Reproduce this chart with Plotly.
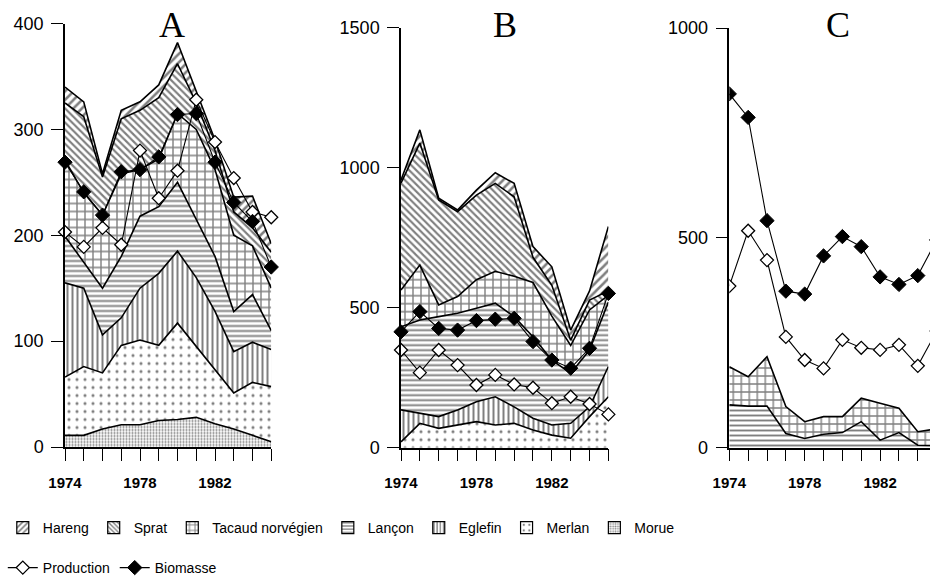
import plotly.graph_objects as go

years = list(range(1974, 1986))
year_labels = ["1974", "", "", "", "1978", "", "", "", "1982", "", "", ""]

# ---- Panel A (values per species, stacked bottom-up) ----
A_morue = [11, 11, 17, 21, 21, 25, 26, 28, 22, 17, 11, 5]
A_merlan = [55, 65, 53, 75, 80, 71, 91, 67, 50, 34, 50, 52]
A_eglefin = [89, 74, 36, 26, 49, 68, 68, 65, 56, 39, 38, 35]
A_lancon = [44, 25, 44, 58, 68, 63, 65, 55, 52, 38, 45, 18]
A_tacaud = [72, 65, 69, 78, 44, 45, 65, 85, 82, 72, 46, 40]
A_sprat = [54, 72, 36, 52, 56, 58, 47, 25, 18, 22, 17, 34]
A_hareng = [15, 14, 3, 8, 8, 12, 20, 10, 10, 14, 30, 8]
A_production = [203, 189, 207, 191, 280, 235, 261, 328, 288, 254, 222, 217]
A_biomasse = [269, 241, 219, 260, 262, 274, 314, 315, 269, 231, 213, 170]

# ---- Panel B ----
B_merlan = [21, 87, 69, 81, 93, 81, 87, 63, 45, 34, 111, 182]
B_eglefin = [114, 36, 42, 54, 71, 101, 59, 42, 36, 53, 35, 108]
B_lancon = [297, 333, 357, 345, 334, 334, 322, 291, 232, 179, 203, 230]
B_tacaud = [131, 196, 42, 60, 102, 114, 144, 194, 157, 99, 143, 25]
B_sprat = [382, 436, 375, 303, 302, 314, 284, 90, 110, 19, 35, 15]
B_hareng = [11, 47, 6, 6, 18, 38, 48, 38, 66, 36, 33, 230]
B_production = [349, 268, 349, 295, 224, 260, 226, 214, 159, 182, 156, 119]
B_biomasse = [414, 486, 426, 420, 454, 459, 462, 379, 313, 284, 355, 551]

# ---- Panel C ----
C_lancon = [102, 99, 99, 34, 22, 32, 36, 62, 18, 36, 6, 5]
C_tacaud = [91, 70, 118, 64, 40, 42, 38, 56, 88, 58, 32, 40]
C_production = [385, 517, 447, 264, 209, 189, 257, 238, 233, 245, 195, 278]
C_biomasse = [843, 787, 541, 373, 366, 457, 503, 479, 407, 389, 410, 495]

A_ticks = [0, 100, 200, 300, 400]
B_ticks = [0, 500, 1000, 1500]
C_ticks = [0, 500, 1000]

legend_species = ["Hareng", "Sprat", "Tacaud norvégien", "Lançon", "Eglefin", "Merlan", "Morue"]

patterns = {
    "Hareng": dict(shape="/", size=6, solidity=0.42),
    "Sprat": dict(shape="\\", size=5, solidity=0.42),
    "Tacaud norvégien": dict(shape="+", size=8, solidity=0.32),
    "Lançon": dict(shape="-", size=5, solidity=0.38),
    "Eglefin": dict(shape="|", size=5, solidity=0.4),
    "Merlan": dict(shape=".", size=8, solidity=0.12),
    "Morue": dict(shape=".", size=3, solidity=0.4),
}

panels = [
    ("A", "x", "y", [("Morue", A_morue), ("Merlan", A_merlan), ("Eglefin", A_eglefin),
                     ("Lançon", A_lancon), ("Tacaud norvégien", A_tacaud),
                     ("Sprat", A_sprat), ("Hareng", A_hareng)], A_production, A_biomasse),
    ("B", "x2", "y2", [("Merlan", B_merlan), ("Eglefin", B_eglefin), ("Lançon", B_lancon),
                       ("Tacaud norvégien", B_tacaud), ("Sprat", B_sprat), ("Hareng", B_hareng)],
     B_production, B_biomasse),
    ("C", "x3", "y3", [("Lançon", C_lancon), ("Tacaud norvégien", C_tacaud)],
     C_production, C_biomasse),
]

FONT = "Liberation Sans"
fig = go.Figure()

for pname, xa, ya, layers, prod, biom in panels:
    for name, vals in layers:
        p = patterns[name]
        fig.add_trace(go.Scatter(
            x=years, y=vals, stackgroup=pname, mode="lines",
            line=dict(color="black", width=1.6),
            fillcolor="white",
            fillpattern=dict(shape=p["shape"], size=p["size"], solidity=p["solidity"],
                             fgcolor="black", bgcolor="white"),
            name=name, showlegend=False, xaxis=xa, yaxis=ya, hoverinfo="skip"))
    first = pname == "A"
    fig.add_trace(go.Scatter(
        x=years, y=prod, mode="lines+markers", name="Production",
        line=dict(color="black", width=1.1),
        marker=dict(symbol="diamond", size=10, color="white", line=dict(color="black", width=1.3)),
        showlegend=first, legend="legend2", legendrank=1, cliponaxis=(pname == "C"),
        xaxis=xa, yaxis=ya))
    fig.add_trace(go.Scatter(
        x=years, y=biom, mode="lines+markers", name="Biomasse",
        line=dict(color="black", width=1.1),
        marker=dict(symbol="diamond", size=11, color="black", line=dict(color="black", width=1)),
        showlegend=first, legend="legend2", legendrank=2, cliponaxis=(pname == "C"),
        xaxis=xa, yaxis=ya))

# legend keys for the area series
for rank, name in enumerate(legend_species):
    p = patterns[name]
    fig.add_trace(go.Bar(
        x=[None], y=[None], name=name, legend="legend", legendrank=rank + 1,
        marker=dict(color="white", line=dict(color="black", width=1.2),
                    pattern=dict(shape=p["shape"], size=max(3, p["size"] - 1), solidity=p["solidity"],
                                 fgcolor="black", bgcolor="white")),
        xaxis="x", yaxis="y"))

W, H = 930, 584

def xdom(a, b):
    return [a / W, min(b / W, 1.0)]

def ydom(bottom_px, top_px):
    return [(H - bottom_px) / H, (H - top_px) / H]

xcommon = dict(tickvals=years, ticktext=year_labels, ticks="outside", ticklen=12, tickwidth=1.2,
               tickcolor="black", showline=True, linecolor="black", linewidth=1.5,
               showgrid=False, zeroline=False, ticklabelstandoff=9, automargin=False,
               tickfont=dict(family=FONT, size=15, color="black", weight="bold"))
ycommon = dict(ticks="outside", ticklen=12, tickwidth=1.2, tickcolor="black", showline=True,
               linecolor="black", linewidth=1.5, showgrid=False, zeroline=False, automargin=False,
               ticklabelstandoff=4, tickfont=dict(family=FONT, size=18, color="black"))

legend_common = dict(orientation="h", xanchor="left", yanchor="middle",
                     font=dict(family=FONT, size=14, color="black"), bgcolor="rgba(0,0,0,0)",
                     itemwidth=30, traceorder="normal", borderwidth=0)

fig.update_layout(
    width=W, height=H, margin=dict(l=0, r=0, t=0, b=0, autoexpand=False),
    paper_bgcolor="white", plot_bgcolor="white", barmode="overlay",
    xaxis=dict(domain=xdom(65, 271.25), range=[1974, 1985], anchor="y", **xcommon),
    yaxis=dict(domain=ydom(447, 23.5), range=[0, 400], tickvals=A_ticks, anchor="x", **ycommon),
    xaxis2=dict(domain=xdom(401, 608.4), range=[1974, 1985], anchor="y2", **xcommon),
    yaxis2=dict(domain=ydom(447.7, 27.7), range=[0, 1500], tickvals=B_ticks, anchor="x2", **ycommon),
    xaxis3=dict(domain=xdom(729.3, 930), range=[1974, 1974 + (930 - 729.3) / 18.85], anchor="y3", **xcommon),
    yaxis3=dict(domain=ydom(447.7, 28), range=[0, 1000], tickvals=C_ticks, anchor="x3", **ycommon),
    legend=dict(x=0.003, y=(H - 528) / H, **legend_common),
    legend2=dict(x=0.003, y=(H - 568) / H, **legend_common),
    showlegend=True,
)

for label, xc in [("A", 172), ("B", 505), ("C", 838)]:
    fig.add_annotation(text=label, x=xc / W, y=(H - 25) / H, xref="paper", yref="paper",
                       xanchor="center", yanchor="middle", showarrow=False,
                       font=dict(family="Liberation Serif", size=36, color="black"))

fig.write_html("out.html")
